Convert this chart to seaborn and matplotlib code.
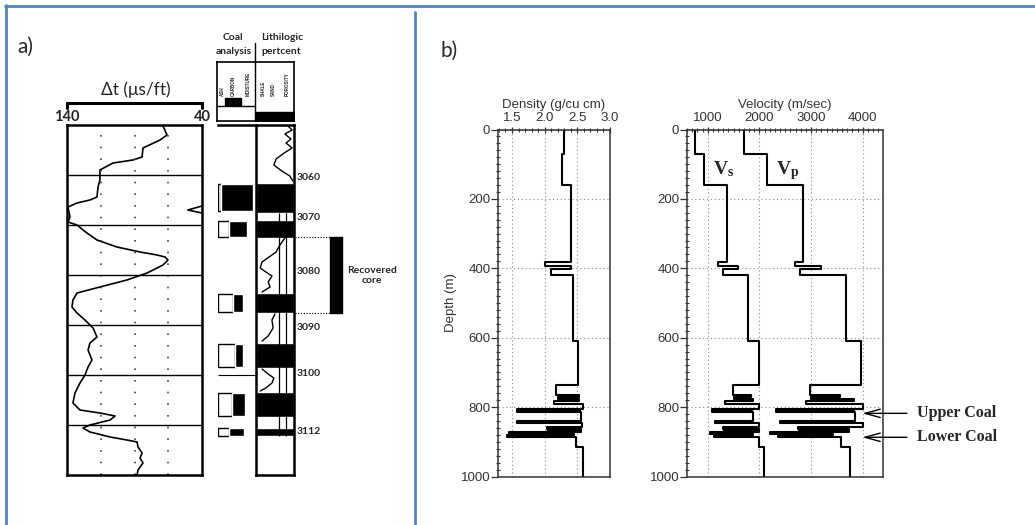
import numpy as np
import pandas as pd
import matplotlib
matplotlib.use("Agg")
import matplotlib.pyplot as plt
from matplotlib.lines import Line2D
from matplotlib.ticker import MultipleLocator
import seaborn as sns

# ---------------- a) sonic log through the coal interval (ft) ----------------
dt_depth = [3050.2, 3052.0, 3053.0, 3054.6, 3056.4, 3057.0, 3057.6, 3059.0, 3061.0,
            3062.4, 3064.4, 3065.0, 3065.6, 3066.4, 3068.4, 3069.4, 3070.0, 3071.0,
            3071.6, 3073.0, 3074.4, 3075.4, 3076.0, 3076.4, 3077.0, 3078.0, 3079.6,
            3081.0, 3082.4, 3083.6, 3085.0, 3086.4, 3087.6, 3089.0, 3090.6, 3092.4,
            3093.6, 3095.0, 3097.0, 3098.4, 3100.0, 3101.6, 3103.6, 3105.6, 3107.0,
            3107.6, 3108.2, 3109.0, 3110.0, 3110.6, 3111.4, 3112.4, 3113.0, 3113.4,
            3114.4, 3115.6, 3116.6, 3117.6, 3119.0, 3120.0]
dt_value = [68.9, 65.9, 71.1, 83.7, 84.4, 91.1, 105.9, 115.6, 115.6,
            117.0, 117.8, 123.0, 132.6, 139.3, 137.8, 139.3, 132.6, 128.1,
            125.2, 117.8, 103.0, 85.9, 73.3, 67.4, 65.2, 68.9, 80.7,
            95.6, 115.6, 132.6, 135.6, 136.3, 132.6, 126.7, 120.7, 117.8,
            123.0, 124.4, 121.5, 124.4, 126.7, 130.4, 134.1, 135.6, 130.4,
            115.6, 104.4, 108.1, 123.0, 128.1, 123.0, 108.1, 95.6, 88.1,
            87.4, 84.4, 85.9, 83.7, 87.4, 88.1]
# backup-scale wrap of the trace where it leaves the left edge
wrap_depth = [3066.2, 3067.0, 3067.6]
wrap_value = [40.0, 50.5, 40.0]

# coal seams: top / base (ft), ash and fixed-carbon percent
coal_top = [3061.6, 3069.0, 3083.6, 3093.6, 3103.4, 3110.6]
coal_base = [3067.6, 3072.6, 3087.6, 3098.6, 3108.4, 3112.2]
coal_ash = [8, 30, 40, 45, 38, 28]
coal_carbon = [84, 45, 25, 22, 32, 40]

# shale percentage between seams (segment id, depth, percent)
shale_seg = [0] * 12 + [1] * 10 + [2] * 5 + [3] * 6
shale_depth = [3050.2, 3051.0, 3051.8, 3052.8, 3053.6, 3054.6, 3055.6, 3056.8, 3058.0, 3059.2, 3060.2, 3061.2,
               3072.6, 3074.0, 3075.4, 3077.4, 3078.6, 3079.4, 3080.2, 3081.4, 3082.4, 3083.4,
               3087.8, 3089.0, 3090.6, 3092.2, 3093.2,
               3098.8, 3099.8, 3100.6, 3101.6, 3102.6, 3103.2]
shale_pct = [84, 95, 76, 92, 79, 95, 74, 53, 47, 68, 89, 97,
             76, 63, 53, 16, 11, 26, 42, 32, 37, 16,
             50, 42, 45, 32, 16,
             16, 32, 47, 42, 26, 11]
sand_lines = [61, 80]

core_interval = [3072.4, 3087.6]
depth_labels = ["3060", "3070", "3080", "3090", "3100", "3112"]
depth_label_pos = [3060.6, 3068.6, 3079.4, 3090.4, 3099.6, 3111.4]

# ---------------- b) layered elastic model (m) ----------------
layer_top = [0, 70, 161, 381, 393, 403, 418, 610, 736, 764, 770, 776, 782, 792,
             806, 814, 841, 847, 857, 864, 871, 878, 880, 887, 915]
model_base = 1000
density = [2.30, 2.26, 2.40, 2.00, 2.40, 2.10, 2.44, 2.51, 2.18, 2.53, 2.20, 2.52, 2.14, 2.59,
           1.58, 2.56, 1.58, 2.57, 2.03, 2.56, 1.45, 2.45, 1.43, 2.48, 2.59]
vs = [755, 935, 1370, 1190, 1590, 1300, 1780, 1990, 1480, 1830, 1500, 1870, 1340, 2000,
      1080, 1880, 1140, 1990, 1290, 1990, 1050, 1880, 1120, 1990, 2090]
vp = [1700, 2150, 2850, 2690, 3200, 2780, 3680, 3970, 2970, 3560, 3000, 3820, 2900, 4000,
      2330, 3850, 2390, 4000, 2750, 3740, 2200, 3420, 2350, 3580, 3760]
coal_marks = {"Upper Coal": 818, "Lower Coal": 887}

# ---------------------------------------------------------------------------
sns.set_style("white")
plt.rcParams["font.family"] = ["Liberation Sans", "DejaVu Sans"]
plt.rcParams["mathtext.fontset"] = "custom"
plt.rcParams["mathtext.rm"] = "Liberation Serif"
plt.rcParams["mathtext.bf"] = "Liberation Serif:bold"

W, H = 1035, 525
fig = plt.figure(figsize=(W / 100, H / 100), dpi=100)
fig.patch.set_facecolor("white")


def ax_at(l, t, r, b):
    return fig.add_axes([l / W, 1 - b / H, (r - l) / W, (b - t) / H])


def P(x, y):
    return x / W, 1 - y / H


def step_profile(tops, values, base):
    bounds = list(tops) + [base]
    xs, ys = [], []
    for i, v in enumerate(values):
        xs += [v, v]
        ys += [bounds[i], bounds[i + 1]]
    return pd.DataFrame({"value": xs, "depth": ys})


def fill_thin_layers(ax, tops, values, base, min_thk=3, max_thk=8.5):
    """Blacken thin beds so they read as solid bars rather than outlines."""
    bounds = list(tops) + [base]
    for i in range(1, len(values) - 1):
        t, b = bounds[i], bounds[i + 1]
        if not (min_thk <= b - t <= max_thk):
            continue
        v, prev, nxt = values[i], values[i - 1], values[i + 1]
        if v < min(prev, nxt):
            lo, hi = v, min(prev, nxt)
        elif v > max(prev, nxt):
            lo, hi = max(prev, nxt), v
        else:
            continue
        ax.fill_betweenx([t, b], lo, hi, color="k", lw=0)


LOG_FONT = ["Lato", "DejaVu Sans"]
blue = "#5682C2"

# frame lines
for xs, ys in [((5, 1035), (6, 6)), ((6, 6), (5, 525)), ((415, 415), (12, 525))]:
    fig.add_artist(Line2D([x / W for x in xs], [1 - y / H for y in ys], color=blue, lw=2.0))

fig.text(*P(17, 47), "a)", fontsize=15, family=LOG_FONT, ha="left", va="center")
fig.text(*P(440, 51), "b)", fontsize=15, family=LOG_FONT, ha="left", va="center")

# ---- sonic track ----
ax_dt = ax_at(67, 125, 202, 475)
dt_df = pd.DataFrame({"dt": dt_value, "depth": dt_depth})
sns.lineplot(data=dt_df, x="dt", y="depth", sort=False, estimator=None, color="k", lw=1.2, ax=ax_dt)
sns.lineplot(x=wrap_value, y=wrap_depth, sort=False, estimator=None, color="k", lw=1.2, ax=ax_dt)
ax_dt.set_xlim(140, 40)
ax_dt.set_ylim(3120, 3050)
for v in (115, 90, 65):
    ax_dt.axvline(v, color="#444", lw=1.2, ls=(0, (1, 6)))
for d in range(3060, 3120, 10):
    ax_dt.axhline(d, color="k", lw=1.0)
ax_dt.set_xticks([]); ax_dt.set_yticks([])
ax_dt.set_xlabel(""); ax_dt.set_ylabel("")
for s in ax_dt.spines.values():
    s.set_linewidth(1.8); s.set_color("k"); s.set_visible(True)
tr = ax_dt.get_xaxis_transform()
ax_dt.plot([140, 40], [1.063, 1.063], transform=tr, clip_on=False, color="k", lw=2.2)
for v in (140, 40):
    ax_dt.plot([v, v], [1.048, 1.063], transform=tr, clip_on=False, color="k", lw=2.2)
ax_dt.text(140, 1.023, "140", transform=tr, ha="center", va="center", fontsize=10.5,
           weight="bold", family=LOG_FONT)
ax_dt.text(40, 1.023, "40", transform=tr, ha="center", va="center", fontsize=10.5,
           weight="bold", family=LOG_FONT)
ax_dt.text(89, 1.10, "Δt (μs/ft)", transform=tr, ha="center", va="center", fontsize=12.5,
           family=LOG_FONT)

# ---- coal analysis column ----
ax_ca = ax_at(218, 125, 256, 475)
ax_ca.set_xlim(0, 100); ax_ca.set_ylim(3120, 3050)
ctop = np.array(coal_top); cbase = np.array(coal_base)
mid = (ctop + cbase) / 2; thk = cbase - ctop
ax_ca.barh(mid, coal_ash, height=thk * 0.9, left=0, fill=False, edgecolor="k", lw=1.0)
ax_ca.barh(mid, coal_carbon, height=thk * 0.9, left=coal_ash, color="k")
ax_ca.hlines(3100, 0, 100, color="k", lw=0.8)
ax_ca.set_xticks([]); ax_ca.set_yticks([])
for k, s in ax_ca.spines.items():
    s.set_visible(k == "top"); s.set_linewidth(1.8); s.set_color("k")

# ---- lithologic column ----
ax_li = ax_at(256, 125, 294, 475)
ax_li.set_xlim(0, 100); ax_li.set_ylim(3120, 3050)
ax_li.vlines(sand_lines, coal_base[0], coal_base[-1], color="k", lw=0.9)
sh_df = pd.DataFrame({"seg": shale_seg, "depth": shale_depth, "pct": shale_pct})
sns.lineplot(data=sh_df, x="pct", y="depth", units="seg", estimator=None, sort=False,
             color="k", lw=1.0, ax=ax_li)
ax_li.barh(mid, 100, height=thk, left=0, color="k")
ax_li.set_xticks([]); ax_li.set_yticks([])
ax_li.set_xlabel(""); ax_li.set_ylabel("")
for s in ax_li.spines.values():
    s.set_linewidth(1.8); s.set_color("k"); s.set_visible(True)

# ---- column header ----
ax_hd = ax_at(217, 62, 294, 121)
ax_hd.set_xlim(217, 294); ax_hd.set_ylim(121, 62)
ax_hd.set_xticks([]); ax_hd.set_yticks([])
for s in ax_hd.spines.values():
    s.set_linewidth(1.2); s.set_color("k"); s.set_visible(True)
ax_hd.plot([255, 255], [121, 43], color="k", lw=1.0, clip_on=False)
ax_hd.plot([217, 255], [106, 106], color="k", lw=1.0)
ax_hd.fill_between([225, 241], 98, 105, color="k")
ax_hd.fill_between([256, 294], 112, 121, color="k")
for x, lab in zip([222, 233, 248, 263, 273, 287],
                  ["ASH", "CARBON", "MOISTURE", "SHALE", "SAND", "POROSITY"]):
    ax_hd.text(x, 96, lab, rotation=90, ha="center", va="bottom", fontsize=3.3, weight="bold")
for x, y, t in [(233, 38, "Coal"), (234, 52, "analysis"), (282, 38, "Lithilogic"), (281, 52, "pertcent")]:
    fig.text(*P(x, y), t, ha="center", va="center", fontsize=7.5, weight="bold", family=LOG_FONT)

# ---- depth labels and recovered core ----
ax_sd = ax_at(295, 125, 420, 475)
ax_sd.set_xlim(295, 420); ax_sd.set_ylim(3120, 3050)
ax_sd.axis("off")
for lab, pos in zip(depth_labels, depth_label_pos):
    ax_sd.text(297, pos, lab, ha="left", va="center", fontsize=7.5, weight="bold", family=LOG_FONT)
ax_sd.fill_betweenx(core_interval, 330, 342, color="k")
ax_sd.hlines(core_interval, 295, 330, color="k", lw=0.8, linestyles=(0, (1, 1.5)))
ax_sd.text(372, 3080.1, "Recovered\ncore", ha="center", va="center", fontsize=7.5,
           weight="bold", family=LOG_FONT, linespacing=1.15)

# ---------------- b) density and velocity tracks ----------------
def style_track(ax, xlim, xmajor, xminor, xlabel):
    ax.set_xlim(*xlim)
    ax.set_ylim(model_base, 0)
    ax.xaxis.tick_top()
    ax.xaxis.set_label_position("top")
    ax.set_xticks(xmajor)
    ax.xaxis.set_minor_locator(MultipleLocator(xminor))
    ax.set_yticks(range(0, 1001, 200))
    ax.yaxis.set_minor_locator(MultipleLocator(20))
    ax.tick_params(axis="x", which="major", direction="inout", length=5, width=0.9, pad=1.5,
                   labelsize=9.5, colors="#333", top=True, bottom=False)
    ax.tick_params(axis="x", which="minor", direction="inout", length=3, width=0.8,
                   colors="#333", top=True, bottom=False)
    ax.tick_params(axis="y", which="major", direction="out", length=5, width=0.9, pad=0.5,
                   labelsize=9.5, colors="#333", left=True, right=False)
    ax.tick_params(axis="y", which="minor", direction="inout", length=3, width=0.8,
                   colors="#333", left=True, right=False)
    for s in ax.spines.values():
        s.set_linewidth(1.1); s.set_color("#333"); s.set_visible(True)
    ax.grid(True, which="major", color="#888", ls=(0, (1, 2.5)), lw=0.8)
    ax.set_xlabel(xlabel, fontsize=9.5, color="#333", labelpad=3)
    ax.set_ylabel("")


ax_d = ax_at(498, 129.5, 610, 476.5)
sns.lineplot(data=step_profile(layer_top, density, model_base), x="value", y="depth",
             sort=False, estimator=None, color="k", lw=1.5, ax=ax_d)
fill_thin_layers(ax_d, layer_top, density, model_base)
style_track(ax_d, (1.286, 3.0), [1.5, 2.0, 2.5, 3.0], 0.1, "Density (g/cu cm)")
ax_d.set_ylabel("Depth (m)", fontsize=9.5, color="#333", labelpad=3)

ax_v = ax_at(687, 129.5, 883, 476.5)
for prof in (vs, vp):
    sns.lineplot(data=step_profile(layer_top, prof, model_base), x="value", y="depth",
                 sort=False, estimator=None, color="k", lw=1.5, ax=ax_v)
    fill_thin_layers(ax_v, layer_top, prof, model_base)
style_track(ax_v, (600, 4390), [1000, 2000, 3000, 4000], 100, "Velocity (m/sec)")
ax_v.text(1103, 130, r"$\mathbf{V_s}$", ha="left", va="baseline", fontsize=14)
ax_v.text(2321, 130, r"$\mathbf{V_p}$", ha="left", va="baseline", fontsize=14)

for name, d in coal_marks.items():
    ypx = 129.5 + d * 0.347
    ax_v.annotate("", xy=(3990, d), xycoords="data", xytext=P(907, ypx),
                  textcoords="figure fraction",
                  arrowprops=dict(arrowstyle="->,head_length=1.1,head_width=0.3",
                                  color="k", lw=1.0, shrinkA=0, shrinkB=0, mutation_scale=10))
    fig.text(*P(917, ypx), name, ha="left", va="center", fontsize=11.5, weight="bold",
             family=["Liberation Serif", "DejaVu Serif"])

fig.savefig("out.png", dpi=100, facecolor="white")
